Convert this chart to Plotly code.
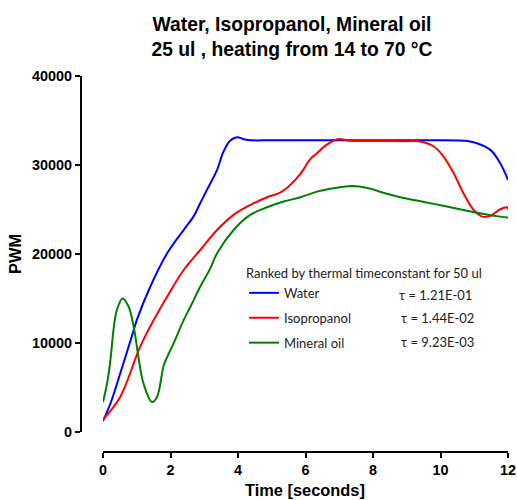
import plotly.graph_objects as go

# ---- data ----
water_t = [0, 0.22, 0.51, 0.91, 1.0, 1.4, 1.9, 2.39, 2.68, 2.88, 3.08, 3.38, 3.57, 3.77, 3.97, 4.17, 4.4,
           5, 6, 7, 8, 9, 10, 10.5, 10.8, 11.08, 11.48, 11.77, 12]
water_v = [1240, 3200, 6570, 11450, 12570, 16320, 20080, 22700, 24200, 25700, 27200, 29450, 31500, 32750,
           33130, 32900, 32780, 32780, 32780, 32780, 32780, 32780, 32780, 32760, 32700, 32450, 31700, 30200, 28330]

iso_t = [0, 0.51, 1.1, 1.55, 1.9, 2.39, 2.88, 3.38, 3.87, 4.36, 4.86, 5.25, 5.5, 5.85, 6.14, 6.34, 6.6,
         6.94, 7.33, 8, 9, 9.4, 9.8, 10.09, 10.39, 10.68, 10.98, 11.23, 11.48, 11.77, 11.97, 12]
iso_v = [1400, 3940, 9570, 12900, 15200, 18200, 20450, 22700, 24400, 25500, 26380, 26900, 27580, 29000,
         30660, 31330, 32200, 32900, 32720, 32700, 32680, 32640, 32080, 30950, 29080, 26830, 24950, 24200,
         24280, 25030, 25250, 25000]

oil_t = [0, 0.12, 0.22, 0.31, 0.41, 0.58, 0.76, 0.91, 1.05, 1.2, 1.45, 1.6, 1.75, 1.8, 2.09, 2.39, 2.59,
         2.88, 3.18, 3.38, 3.87, 4.36, 4.86, 5.35, 5.85, 6.34, 6.83, 7.38, 7.87, 8.36, 8.81, 9.3, 9.8, 10.29,
         10.78, 11.28, 11.77, 12]
oil_v = [3380, 5450, 8070, 11450, 13700, 15010, 14070, 11820, 8440, 5450, 3380, 3940, 6570, 7500, 9950,
         12570, 14070, 16320, 18390, 20080, 22700, 24390, 25250, 25890, 26380, 27010, 27390, 27650, 27390,
         26830, 26380, 26000, 25630, 25250, 24870, 24500, 24200, 24090]

series_names = ["Water", "Isopropanol", "Mineral oil"]
series_colors = ["#0000FF", "#FF0000", "#008000"]
tau_labels = ["τ = 1.21E-01", "τ = 1.44E-02", "τ = 9.23E-03"]
x_ticks = [0, 2, 4, 6, 8, 10, 12]
y_ticks = [0, 10000, 20000, 30000, 40000]

W, H = 517, 500
ML, MR, MT, MB = 81, 9, 76, 48
PW, PH = W - ML - MR, H - MT - MB

def px_x(p):
    return (p - ML) / PW

def px_y(p):
    return (H - MB - p) / PH

fig = go.Figure()
for t, v, name, col in zip([water_t, iso_t, oil_t], [water_v, iso_v, oil_v], series_names, series_colors):
    fig.add_trace(go.Scatter(x=t, y=v, mode="lines", name=name, legendgroup=name,
                             line=dict(color=col, width=2, shape="spline", smoothing=1.0)))

axis_font = dict(family="Liberation Sans, Arial", size=14.4, color="#000")
title_font = dict(family="Liberation Sans, Arial", size=16.4, color="#000")
leg_font = dict(family="Lato, Open Sans", size=13, color="#222")
fig.update_layout(
    width=W, height=H,
    margin=dict(l=ML, r=MR, t=MT, b=MB, autoexpand=False),
    paper_bgcolor="white", plot_bgcolor="white",
    title=dict(text="<b>Water, Isopropanol, Mineral oil<br>25 ul , heating from 14 to 70 °C</b>",
               x=292 / W, xanchor="center", xref="container",
               y=1 - 31 / H, yanchor="middle", yref="container",
               font=dict(family="Liberation Sans, Arial", size=19.3, color="#000")),
    xaxis=dict(domain=[px_x(103), 1], anchor="free", position=0, range=[0, 12], automargin=False,
               tickvals=x_ticks, ticktext=[f"<b>{v}</b>" for v in x_ticks],
               showline=True, linewidth=2, linecolor="#000", ticks="outside", ticklen=5, tickwidth=2,
               tickcolor="#000", showgrid=False, zeroline=False, tickfont=axis_font),
    yaxis=dict(domain=[px_y(432), 1], anchor="free", position=0, range=[0, 40000], automargin=False,
               tickvals=y_ticks, ticktext=[f"<b>{v}</b>" for v in y_ticks],
               showline=True, linewidth=2, linecolor="#000", ticks="outside", ticklen=5, tickwidth=2,
               tickcolor="#000", showgrid=False, zeroline=False, tickfont=axis_font),
    showlegend=True,
    legend=dict(x=px_x(244), y=px_y(261), xanchor="left", yanchor="top",
                bgcolor="rgba(0,0,0,0)", tracegroupgap=5,
                title=dict(text="Ranked by thermal timeconstant for 50 ul", font=leg_font),
                font=leg_font, itemwidth=30),
)

# axis titles
fig.add_annotation(text="<b>Time [seconds]</b>", xref="paper", yref="paper",
                   x=px_x(305), y=px_y(490), xanchor="center", yanchor="middle",
                   showarrow=False, font=title_font)
fig.add_annotation(text="<b>PWM</b>", xref="paper", yref="paper", textangle=-90,
                   x=px_x(15), y=px_y(254), xanchor="center", yanchor="middle",
                   showarrow=False, font=title_font)

for lab, xpix, ypix in zip(tau_labels, [397, 399, 399], [295, 318.3, 341.7]):
    fig.add_annotation(text=lab, xref="paper", yref="paper", x=px_x(xpix), y=px_y(ypix),
                       xanchor="left", yanchor="middle", showarrow=False, font=leg_font)

fig.write_html("out.html", config={"displayModeBar": False},
               post_script="document.body.style.margin='0';document.body.style.overflow='hidden';")
